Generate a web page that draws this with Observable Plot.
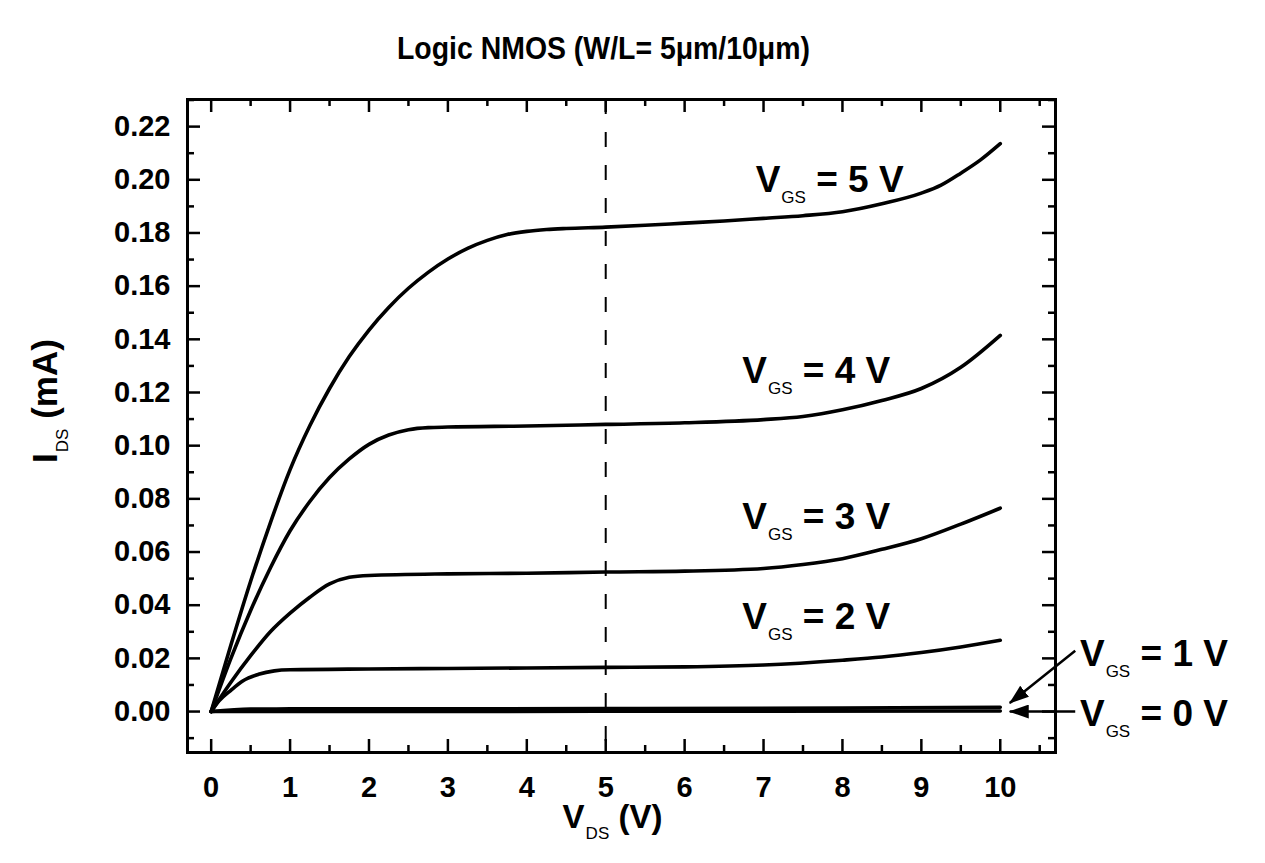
<!DOCTYPE html>
<html><head><meta charset="utf-8">
<script src="https://cdn.jsdelivr.net/npm/d3@7"></script>
<script src="https://cdn.jsdelivr.net/npm/@observablehq/plot@0.6"></script>
<style>body{margin:0;background:#fff}</style>
</head><body><div id="chart"></div>
<script>
// ---- data ----
const gateVoltages = ["5", "4", "3", "2", "1", "0"];
const curve5V = [[0,0],[0.25,0.025],[0.5,0.049],[0.75,0.071],[1,0.091],[1.25,0.1075],[1.5,0.1215],[1.75,0.1335],[2,0.1435],[2.25,0.152],[2.5,0.1592],[2.75,0.1652],[3,0.1702],[3.25,0.1742],[3.5,0.1772],[3.75,0.1794],[4,0.1806],[4.25,0.1813],[4.5,0.1817],[5,0.1822],[5.5,0.1829],[6,0.1837],[6.5,0.1845],[7,0.1855],[7.5,0.1865],[8,0.188],[8.5,0.191],[9,0.195],[9.25,0.198],[9.5,0.2025],[9.75,0.2075],[10,0.2136]];
const curve4V = [[0,0],[0.25,0.02],[0.5,0.038],[0.75,0.054],[1,0.068],[1.25,0.079],[1.5,0.088],[1.75,0.095],[2,0.1005],[2.25,0.104],[2.5,0.106],[2.75,0.1068],[3,0.107],[4,0.1074],[5,0.108],[6,0.1086],[7,0.1098],[7.5,0.111],[8,0.1135],[8.5,0.117],[9,0.1215],[9.5,0.1295],[10,0.1415]];
const curve3V = [[0,0],[0.25,0.011],[0.5,0.021],[0.75,0.030],[1,0.037],[1.25,0.043],[1.5,0.048],[1.75,0.0505],[2,0.0512],[3,0.0518],[4,0.052],[5,0.0525],[6,0.0528],[7,0.0538],[7.5,0.0553],[8,0.0575],[8.5,0.061],[9,0.065],[9.5,0.0705],[10,0.0765]];
const curve2V = [[0,0],[0.1,0.004],[0.25,0.008],[0.4,0.0115],[0.6,0.014],[0.8,0.0153],[1,0.0157],[2,0.016],[3,0.0162],[4,0.0164],[5,0.0166],[6,0.0168],[7,0.0175],[8,0.0193],[8.5,0.0205],[9,0.0222],[9.5,0.0243],[10,0.0268]];
const curve1V = [[0,0],[0.5,0.0009],[1,0.001],[5,0.0011],[8,0.0013],[10,0.0016]];
const curve0V = [[0,0],[5,0.0001],[10,0.0002]];

const xTickValues = [0,1,2,3,4,5,6,7,8,9,10];
const xMinorValues = [0.5,1.5,2.5,3.5,4.5,5.5,6.5,7.5,8.5,9.5,10.5];
const yTickValues = [0,0.02,0.04,0.06,0.08,0.10,0.12,0.14,0.16,0.18,0.20,0.22];
const yMinorValues = [-0.01,0.01,0.03,0.05,0.07,0.09,0.11,0.13,0.15,0.17,0.19,0.21,0.23];
const dashedVds = [5];

const labelTexts = ["V_{GS} = 5 V","V_{GS} = 4 V","V_{GS} = 3 V","V_{GS} = 2 V","V_{GS} = 1 V","V_{GS} = 0 V"];
const labelX = [6.9, 6.73, 6.73, 6.73, 11.01, 11.01];
const labelY = [0.1955, 0.1234, 0.0688, 0.0312, 0.0173, -0.0056];

const arrowX1 = [10.95, 10.95];
const arrowY1 = [0.0229, 0.0];
const arrowX2 = [10.12, 10.12];
const arrowY2 = [0.0032, 0.0];

const titleText = "Logic NMOS (W/L= 5\u03bcm/10\u03bcm)";
const xLabelText = "V_{DS} (V)";
const yLabelText = "I_{DS} (mA)";

// ---- build table ----
const curves = [curve5V, curve4V, curve3V, curve2V, curve1V, curve0V];
const rows = curves.flatMap((c, i) => c.map(([vds, ids]) => ({vgs: gateVoltages[i], vds, ids})));
const labels = labelTexts.map((t, i) => ({t, x: labelX[i], y: labelY[i]}));
const arrows = arrowX1.map((x1, i) => ({x1, y1: arrowY1[i], x2: arrowX2[i], y2: arrowY2[i]}));

// ---- layout ----
const W = 1265, H = 863, ML = 187, MR = 210, MT = 99, MB = 111;
const FW = W - ML - MR, FH = H - MT - MB;
const major = 13, minor = 7;
const font = "Liberation Sans, Arial, Helvetica, sans-serif";

const plot = Plot.plot({
  width: W, height: H,
  marginLeft: ML, marginRight: MR, marginTop: MT, marginBottom: MB,
  style: {fontFamily: font, background: "#fff", color: "#000"},
  x: {domain: [-0.3, 10.7]},
  y: {domain: [-0.0154, 0.2302]},
  marks: [
    Plot.ruleX(dashedVds, {strokeWidth: 2, strokeDasharray: "15,18"}),
    Plot.line(rows, {x: "vds", y: "ids", z: "vgs", curve: "monotone-x", strokeWidth: 3.6, strokeLinecap: "round"}),
    // ticks bottom / top
    Plot.tickX(xTickValues, {x: d => d, insetTop: FH - major, strokeWidth: 2.5}),
    Plot.tickX(xTickValues, {x: d => d, insetBottom: FH - major, strokeWidth: 2.5}),
    Plot.tickX(xMinorValues, {x: d => d, insetTop: FH - minor, strokeWidth: 2.5}),
    Plot.tickX(xMinorValues, {x: d => d, insetBottom: FH - minor, strokeWidth: 2.5}),
    // ticks left / right
    Plot.tickY(yTickValues, {y: d => d, insetRight: FW - major, strokeWidth: 2.5}),
    Plot.tickY(yTickValues, {y: d => d, insetLeft: FW - major, strokeWidth: 2.5}),
    Plot.tickY(yMinorValues, {y: d => d, insetRight: FW - minor, strokeWidth: 2.5}),
    Plot.tickY(yMinorValues, {y: d => d, insetLeft: FW - minor, strokeWidth: 2.5}),
    Plot.frame({strokeWidth: 3}),
    Plot.axisX({ticks: xTickValues, tickSize: 0, tickPadding: 24, fontSize: 29, fontWeight: "bold", label: null, tickFormat: d => String(d)}),
    Plot.axisY({ticks: yTickValues, tickSize: 0, tickPadding: 17, fontSize: 29, fontWeight: "bold", label: null, tickFormat: d => d.toFixed(2)}),
    Plot.text(labels, {x: "x", y: "y", text: "t", textAnchor: "start", lineAnchor: "bottom", fontSize: 37, fontWeight: "bold"}),
    Plot.link(arrows, {x1: "x1", y1: "y1", x2: "x2", y2: "y2", strokeWidth: 2.5}),
    Plot.text([titleText], {frameAnchor: "top", dy: -41, dx: -18, lineAnchor: "bottom", fontSize: 32, fontWeight: "bold"}),
    Plot.text([xLabelText], {frameAnchor: "bottom", dy: 75, dx: -9, lineAnchor: "bottom", fontSize: 33, fontWeight: "bold"}),
    Plot.text([yLabelText], {frameAnchor: "left", textAnchor: "middle", dx: -131, dy: -25, rotate: -90, lineAnchor: "bottom", fontSize: 35, fontWeight: "bold"})
  ]
});

// subscripts
d3.select(plot).selectAll("text").each(function() {
  const t = this.textContent;
  const m = t.match(/^(.*?)_\{(.*?)\}(.*)$/);
  if (!m) return;
  const fs = parseFloat(getComputedStyle(this).fontSize) || 32;
  const sub = Math.round(fs * 0.52), off = Math.round(fs * 0.34);
  const sel = d3.select(this); sel.text(null);
  sel.append("tspan").text(m[1]);
  sel.append("tspan").attr("dy", off).attr("font-size", sub).attr("font-weight", "normal").attr("dx", 1).text(m[2]);
  sel.append("tspan").attr("dy", -off).text(m[3]);
});

// condensed title like the reference
d3.select(plot).selectAll("text").filter(function() { return this.textContent === titleText; })
  .attr("textLength", 413).attr("lengthAdjust", "spacingAndGlyphs");

// filled arrow heads
const svg = d3.select(plot);
svg.append("defs").append("marker")
  .attr("id", "ahead").attr("markerUnits", "userSpaceOnUse")
  .attr("viewBox", "0 0 20 14").attr("markerWidth", 20).attr("markerHeight", 14)
  .attr("refX", 19).attr("refY", 7).attr("orient", "auto")
  .append("path").attr("d", "M0,0L20,7L0,14z").attr("fill", "#000");
svg.selectAll("g[aria-label=link] path").attr("marker-end", "url(#ahead)");

document.getElementById("chart").append(plot);
</script>
</body></html>
